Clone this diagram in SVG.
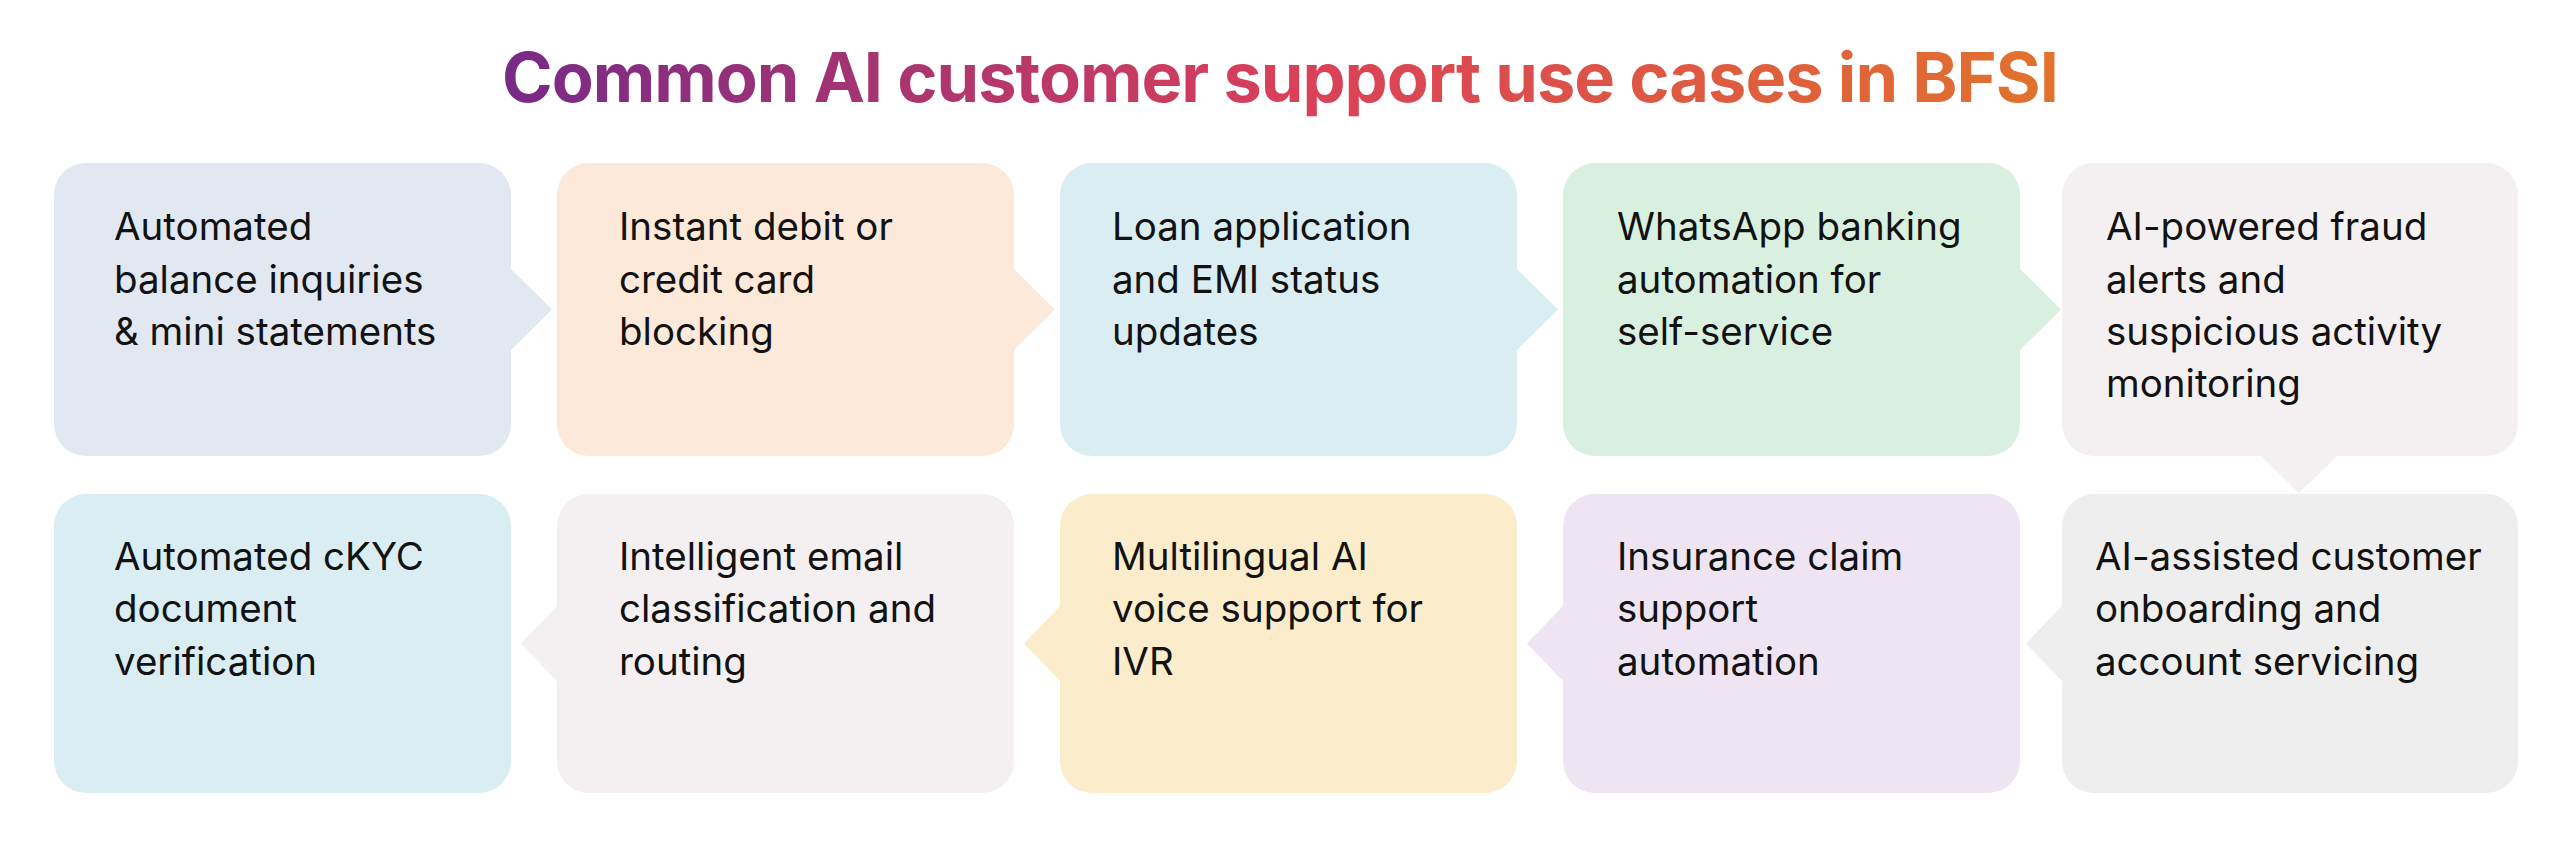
<svg xmlns="http://www.w3.org/2000/svg" width="2560" height="850" viewBox="0 0 2560 850">
<defs>
<linearGradient id="tg" gradientUnits="userSpaceOnUse" x1="503" y1="0" x2="2057" y2="0">
<stop offset="0" stop-color="#782A87"/>
<stop offset="0.5" stop-color="#D93F5A"/>
<stop offset="1" stop-color="#E2722C"/>
</linearGradient>
<style>
.t{font-family:Inter,"Liberation Sans",sans-serif;font-size:38.5px;fill:#121212}
.title{font-family:Inter,"Liberation Sans",sans-serif;font-size:68.5px;font-weight:700;fill:url(#tg);letter-spacing:-1px}
</style>
</defs>
<rect width="2560" height="850" fill="#ffffff"/>
<text class="title" x="1280" y="102" text-anchor="middle">Common AI customer support use cases in BFSI</text>

<g id="connectors">
<polygon points="510,268 552,309.5 510,351" fill="#E2E8F2"/>
<polygon points="1013,268 1055,309.5 1013,351" fill="#FCE9DA"/>
<polygon points="1516,268 1558,309.5 1516,351" fill="#DAEDF3"/>
<polygon points="2019,268 2061,309.5 2019,351" fill="#D9F0E0"/>
<polygon points="2260,455 2299,493 2338,455" fill="#F4F0F1"/>
<polygon points="2063,605 2026,643.5 2063,682" fill="#EEEEEE"/>
<polygon points="1564,605 1527,643.5 1564,682" fill="#EFE5F2"/>
<polygon points="1061,605 1024,643.5 1061,682" fill="#FBEDCB"/>
<polygon points="558,605 521,643.5 558,682" fill="#F4F0F1"/>
</g>

<g id="n1">
<rect x="54" y="163" width="457" height="293" rx="32" fill="#E2E8F2"/>
<text class="t"><tspan x="114" y="240">Automated</tspan><tspan x="114" y="293">balance inquiries</tspan><tspan x="114" y="345">&amp; mini statements</tspan></text>
</g>
<g id="n2">
<rect x="557" y="163" width="457" height="293" rx="32" fill="#FCE9DA"/>
<text class="t"><tspan x="619" y="240">Instant debit or</tspan><tspan x="619" y="293">credit card</tspan><tspan x="619" y="345">blocking</tspan></text>
</g>
<g id="n3">
<rect x="1060" y="163" width="457" height="293" rx="32" fill="#DAEDF3"/>
<text class="t"><tspan x="1112" y="240">Loan application</tspan><tspan x="1112" y="293">and EMI status</tspan><tspan x="1112" y="345">updates</tspan></text>
</g>
<g id="n4">
<rect x="1563" y="163" width="457" height="293" rx="32" fill="#D9F0E0"/>
<text class="t"><tspan x="1617" y="240">WhatsApp banking</tspan><tspan x="1617" y="293">automation for</tspan><tspan x="1617" y="345">self-service</tspan></text>
</g>
<g id="n5">
<rect x="2062" y="163" width="456" height="293" rx="32" fill="#F4F0F1"/>
<text class="t"><tspan x="2106" y="240">AI-powered fraud</tspan><tspan x="2106" y="293">alerts and</tspan><tspan x="2106" y="345">suspicious activity</tspan><tspan x="2106" y="397">monitoring</tspan></text>
</g>
<g id="n6">
<rect x="54" y="494" width="457" height="299" rx="32" fill="#DAEDF3"/>
<text class="t"><tspan x="114" y="570">Automated cKYC</tspan><tspan x="114" y="622">document</tspan><tspan x="114" y="675">verification</tspan></text>
</g>
<g id="n7">
<rect x="557" y="494" width="457" height="299" rx="32" fill="#F4F0F1"/>
<text class="t"><tspan x="619" y="570">Intelligent email</tspan><tspan x="619" y="622">classification and</tspan><tspan x="619" y="675">routing</tspan></text>
</g>
<g id="n8">
<rect x="1060" y="494" width="457" height="299" rx="32" fill="#FBEDCB"/>
<text class="t"><tspan x="1112" y="570">Multilingual AI</tspan><tspan x="1112" y="622">voice support for</tspan><tspan x="1112" y="675">IVR</tspan></text>
</g>
<g id="n9">
<rect x="1563" y="494" width="457" height="299" rx="32" fill="#EFE5F2"/>
<text class="t"><tspan x="1617" y="570">Insurance claim</tspan><tspan x="1617" y="622">support</tspan><tspan x="1617" y="675">automation</tspan></text>
</g>
<g id="n10">
<rect x="2062" y="494" width="456" height="299" rx="32" fill="#EEEEEE"/>
<text class="t"><tspan x="2095" y="570">AI-assisted customer</tspan><tspan x="2095" y="622">onboarding and</tspan><tspan x="2095" y="675">account servicing</tspan></text>
</g>
</svg>
